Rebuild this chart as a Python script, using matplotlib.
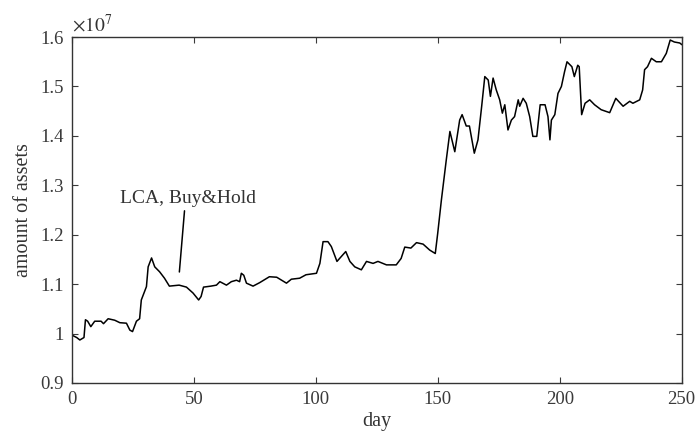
import matplotlib as mpl
mpl.use('Agg')
import matplotlib.pyplot as plt
from matplotlib.ticker import FuncFormatter

# values, in units of 1e7
days = [0, 2, 3.3, 5, 5.6, 6.5, 7.8, 9.4, 12, 13, 14.9, 17.6, 19.7, 22.4, 23.8,
        24.9, 26.5, 27.8, 28.5, 30.6, 31.3, 32.7, 34, 36, 38, 40, 44, 47, 49.7,
        52, 53, 54, 57, 59.3, 60.7, 63.4, 65.4, 67.5, 68.8, 69.5, 70.5, 71.6,
        74.3, 77, 81, 84, 88, 90, 93.4, 96, 100.3, 101.7, 103, 105, 106.4, 108.7,
        110.5, 112.3, 114, 116, 118.7, 120.8, 123.5, 125.5, 129, 133, 135, 136.5,
        139, 141.3, 144, 146.7, 149, 150, 151.5, 153.5, 155, 157, 159, 160, 161.7,
        163, 164.5, 165, 166.5, 168, 169.3, 170.7, 171.6, 172.7, 174, 175.4, 176.5,
        177.5, 178.8, 180.2, 181.5, 183, 183.6, 185, 186.3, 187.7, 189, 190.6, 192,
        194, 195.2, 196, 196.6, 198, 199.3, 200.7, 202, 203, 205, 206, 207.4, 208,
        209, 210.4, 212.3, 214.3, 217, 220.5, 223, 226, 228.7, 230, 232.8, 234,
        234.8, 236, 237.6, 239.6, 241.7, 243.7, 245.3, 247, 249.2, 250]
assets = [0.997, 0.992, 0.987, 0.992, 1.028, 1.025, 1.014, 1.025, 1.025, 1.020,
          1.030, 1.027, 1.022, 1.021, 1.007, 1.004, 1.025, 1.030, 1.068, 1.095,
          1.135, 1.153, 1.135, 1.125, 1.112, 1.096, 1.098, 1.094, 1.082, 1.068,
          1.075, 1.094, 1.096, 1.098, 1.105, 1.098, 1.105, 1.108, 1.105, 1.122,
          1.118, 1.102, 1.096, 1.103, 1.115, 1.114, 1.102, 1.110, 1.112, 1.119,
          1.122, 1.142, 1.186, 1.186, 1.176, 1.146, 1.156, 1.166, 1.146, 1.135,
          1.129, 1.146, 1.142, 1.146, 1.139, 1.139, 1.152, 1.175, 1.173, 1.184,
          1.181, 1.169, 1.162, 1.203, 1.270, 1.351, 1.409, 1.368, 1.432, 1.443,
          1.420, 1.420, 1.378, 1.365, 1.392, 1.459, 1.520, 1.513, 1.480, 1.517,
          1.493, 1.473, 1.446, 1.463, 1.412, 1.432, 1.439, 1.473, 1.460, 1.476,
          1.466, 1.439, 1.399, 1.399, 1.463, 1.463, 1.439, 1.392, 1.432, 1.443,
          1.486, 1.500, 1.530, 1.550, 1.540, 1.520, 1.543, 1.540, 1.443, 1.466,
          1.473, 1.463, 1.453, 1.447, 1.476, 1.460, 1.470, 1.466, 1.473, 1.493,
          1.534, 1.540, 1.557, 1.550, 1.550, 1.567, 1.594, 1.590, 1.588, 1.585]
xticks = [0, 50, 100, 150, 200, 250]
yticks = [0.9, 1.0, 1.1, 1.2, 1.3, 1.4, 1.5, 1.6]

plt.rcParams['font.family'] = ['Liberation Serif', 'DejaVu Serif']

fig = plt.figure(figsize=(6.97, 4.36), dpi=100)
ax = fig.add_axes([0.103, 0.1216, 0.875, 0.7934])
ax.plot(days, assets, color='black', linewidth=1.1)

ax.set_xlim(0, 250)
ax.set_ylim(0.9, 1.6)
ax.set_xticks(xticks)
ax.set_yticks(yticks)
ax.yaxis.set_major_formatter(FuncFormatter(lambda v, p: '%g' % round(v, 2)))
ax.tick_params(direction='in', top=True, right=True, length=4, width=0.8,
               labelsize=13.5, colors='#3a3a3a', pad=6)
for s in ax.spines.values():
    s.set_color('#333333')
    s.set_linewidth(1.0)

ax.set_xlabel('day', fontsize=14.5, color='#333333', labelpad=3)
ax.set_ylabel('amount of assets', fontsize=14.5, color='#333333', labelpad=5)
ax.text(0.0, 1.005, r'$\times 10^{7}$', transform=ax.transAxes, fontsize=14,
        color='#333333', ha='left', va='bottom', math_fontfamily='stix')

ax.text(19.7, 1.274, 'LCA, Buy&Hold', fontsize=14, color='#333333',
        ha='left', va='center')
ax.annotate('', xy=(44, 1.119), xytext=(46.3, 1.254),
            arrowprops=dict(arrowstyle='-', color='black', lw=1.1))

fig.savefig('out.png', dpi=100)
